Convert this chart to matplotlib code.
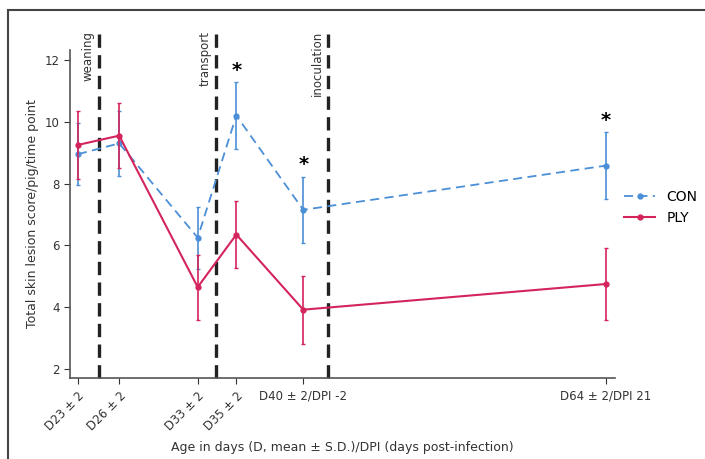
import numpy as np
import matplotlib.pyplot as plt
from matplotlib.patches import Rectangle
from matplotlib.lines import Line2D

# age in days (mean) for each time point, as placed on the axis
ages = [23, 26.2, 32.3, 35.3, 40.5, 64]
labels = ['D23 ± 2', 'D26 ± 2', 'D33 ± 2', 'D35 ± 2', 'D40 ± 2/DPI -2', 'D64 ± 2/DPI 21']

con_mean = [8.95, 9.3, 6.25, 10.2, 7.15, 8.58]
con_sd = [1.0, 1.05, 1.0, 1.08, 1.07, 1.08]
ply_mean = [9.25, 9.55, 4.65, 6.35, 3.92, 4.75]
ply_sd = [1.1, 1.05, 1.05, 1.08, 1.1, 1.18]

events = ['weaning', 'transport', 'inoculation']
event_days = [24.6, 33.7, 42.4]

signif = [False, False, False, True, True, True]

blue = '#4b8fd6'
red = '#d4245c'

fig = plt.figure(figsize=(7.05, 4.59), dpi=100)
ax = fig.add_axes([0.0993, 0.1765, 0.7727, 0.7145])

con_ls = (0, (5, 3))
ax.errorbar(ages, con_mean, yerr=con_sd, color=blue, ls=con_ls, lw=1.3,
            marker='o', ms=3.5, capsize=1.5, elinewidth=1.2, zorder=3)
ax.errorbar(ages, ply_mean, yerr=ply_sd, color=red, ls='-', lw=1.5,
            marker='o', ms=3.5, capsize=1.5, elinewidth=1.2, zorder=4)

for d, name in zip(event_days, events):
    ax.axvline(d, ymin=0, ymax=1.05, color='#222222', lw=2.4, ls=(0, (4, 2.2)),
               clip_on=False, zorder=2)
    ax.text(d - 0.8, 12.95, name, rotation=90, ha='center', va='top',
            fontsize=8.5, color='#333333')

for a, m, s, sig in zip(ages, con_mean, con_sd, signif):
    if sig:
        ax.text(a, m + s + 0.08, '*', ha='center', va='bottom', fontsize=14,
                fontweight='bold', color='black')

ax.set_xlim(22.38, 64.7)
ax.set_ylim(1.71, 12.32)
ax.set_yticks([2, 4, 6, 8, 10, 12])
ax.set_xticks(ages)
ax.set_xticklabels(labels)
for i, t in enumerate(ax.get_xticklabels()):
    if i < 4:
        t.set_rotation(45)
        t.set_ha('right')
        t.set_va('top')
        t.set_rotation_mode('anchor')
ax.tick_params(axis='both', labelsize=8.5, colors='#333333', length=4, width=0.8)
ax.tick_params(axis='x', pad=4)

for sp in ['top', 'right']:
    ax.spines[sp].set_visible(False)
for sp in ['left', 'bottom']:
    ax.spines[sp].set_color('#555555')
    ax.spines[sp].set_linewidth(1.2)

ax.set_ylabel('Total skin lesion score/pig/time point', fontsize=9, color='#333333')
ax.set_xlabel('Age in days (D, mean ± S.D.)/DPI (days post-infection)', fontsize=9,
              color='#333333', labelpad=6)

handles = [Line2D([], [], color=blue, ls=con_ls, lw=1.3, marker='o', ms=3.5),
           Line2D([], [], color=red, ls='-', lw=1.5, marker='o', ms=3.5)]
ax.legend(handles, ['CON', 'PLY'], loc='center left', bbox_to_anchor=(1.0, 0.52),
          frameon=False, fontsize=10, handlelength=2.2, borderaxespad=0.3)

fig.patches.append(Rectangle((8 / 705, -0.1), 1.2, 1 - 10 / 459 + 0.1,
                             transform=fig.transFigure, fill=False,
                             edgecolor='#444444', lw=1.5))

fig.savefig('out.png', dpi=100)
